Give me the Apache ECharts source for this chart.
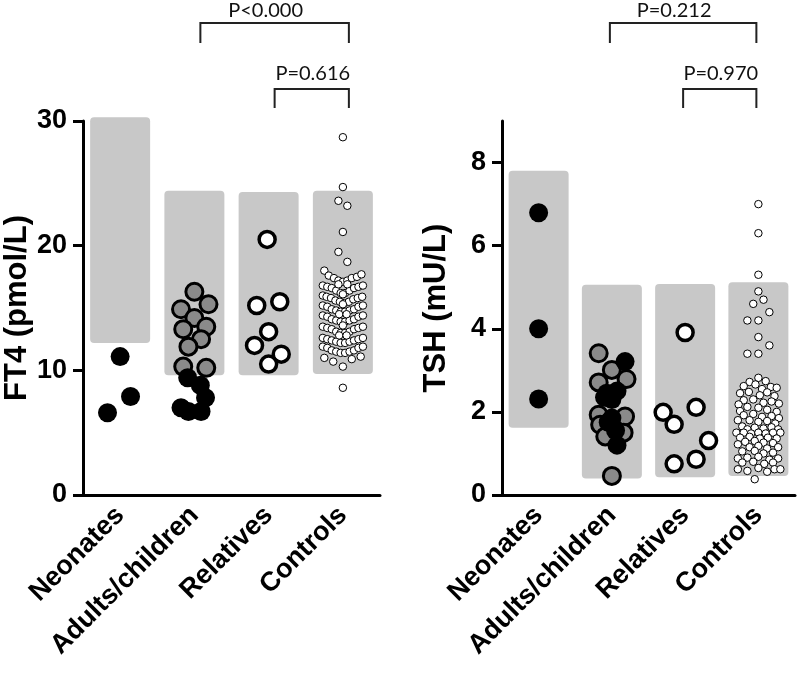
<!DOCTYPE html>
<html>
<head>
<meta charset="utf-8">
<script src="https://cdn.jsdelivr.net/npm/echarts@6/dist/echarts.min.js"></script>
<style>
  html, body { margin: 0; background: #fff; }
  #chart { width: 800px; height: 676px; }
</style>
</head>
<body>
<div id="chart"></div>
<script>
const categories = ['Neonates', 'Adults/children', 'Relatives', 'Controls'];

// reference ranges (grey boxes)
const ft4RangeLow = [12.2, 9.6, 9.6, 9.7];
const ft4RangeHigh = [30.3, 24.4, 24.3, 24.4];
const tshRangeLow = [1.62, 0.4, 0.43, 0.46];
const tshRangeHigh = [7.8, 5.06, 5.08, 5.12];

// points are [jitter inside the category, value]
const ft4Neonates = [[-0.17, 6.6], [0, 11.1], [0.14, 7.9]];
const ft4AdultsGrey = [[0, 16.3], [0.19, 15.3], [-0.18, 14.9], [0, 14.2], [-0.15, 13.3], [0.16, 13.5],
  [0.09, 12.5], [-0.08, 11.9], [-0.15, 10.3], [0.16, 10.2]];
const ft4AdultsBlack = [[-0.09, 9.4], [0.08, 8.8], [0.15, 7.8], [-0.18, 7.0], [-0.08, 6.7], [0.09, 6.7]];
const ft4Relatives = [[-0.02, 20.5], [-0.16, 15.2], [0.15, 15.5], [0, 13.1], [-0.19, 12.0], [0.17, 11.3], [0, 10.5]];
const ft4Controls = [
  [0, 28.7], [0, 24.7], [-0.06, 23.6], [0.06, 23.2], [0, 21.1], [-0.06, 19.5], [0.06, 18.7],
  [-0.25, 18.0], [-0.19, 17.6], [-0.12, 17.4], [-0.06, 17.2], [0, 17.1], [0.06, 17.2], [0.12, 17.4], [0.19, 17.5], [0.25, 17.7],
  [-0.27, 16.8], [-0.21, 16.7], [-0.15, 16.6], [-0.09, 16.4], [-0.03, 16.2], [0.03, 16.2], [0.09, 16.4], [0.15, 16.6], [0.21, 16.7], [0.27, 16.8], [-0.06, 16.9], [0.06, 16.9],
  [-0.27, 16.0], [-0.22, 15.9], [-0.16, 15.8], [-0.1, 15.6], [-0.04, 15.5], [0.02, 15.4], [0.08, 15.5], [0.14, 15.7], [0.2, 15.8], [0.26, 15.9], [0, 16.1],
  [-0.27, 15.2], [-0.21, 15.1], [-0.15, 14.9], [-0.09, 14.8], [-0.03, 14.7], [0.03, 14.7], [0.09, 14.8], [0.15, 14.9], [0.21, 15.1], [0.27, 15.2], [0, 15.3],
  [-0.27, 14.4], [-0.21, 14.3], [-0.15, 14.1], [-0.09, 14.0], [-0.03, 13.9], [0.03, 13.9], [0.09, 14.0], [0.15, 14.1], [0.21, 14.3], [0.27, 14.4], [-0.05, 14.5], [0.05, 14.5],
  [-0.27, 13.5], [-0.21, 13.4], [-0.15, 13.3], [-0.09, 13.1], [-0.03, 13.0], [0.03, 13.0], [0.09, 13.1], [0.15, 13.3], [0.21, 13.4], [0.27, 13.5], [0, 13.6],
  [-0.27, 12.6], [-0.21, 12.5], [-0.15, 12.4], [-0.09, 12.3], [-0.03, 12.2], [0.03, 12.2], [0.09, 12.3], [0.15, 12.4], [0.21, 12.5], [0.27, 12.6], [-0.05, 12.8], [0.05, 12.8],
  [-0.27, 11.9], [-0.21, 11.8], [-0.15, 11.6], [-0.09, 11.5], [-0.03, 11.4], [0.03, 11.4], [0.09, 11.5], [0.15, 11.6], [0.21, 11.8], [0.27, 11.9],
  [-0.25, 11.0], [-0.13, 10.7], [0, 10.3], [0.12, 10.9], [0.24, 11.1],
  [0, 8.6]
];

const tshNeonates = [[0, 6.79], [0, 4.0], [0, 2.31]];
const tshAdultsGrey = [[-0.18, 3.41], [0, 3.01], [-0.18, 2.71], [0.2, 2.79], [-0.18, 1.93], [0.18, 1.89],
  [-0.16, 1.69], [0.16, 1.5], [-0.09, 1.41], [0, 0.46]];
const tshAdultsBlack = [[0.18, 3.21], [-0.07, 2.45], [0.07, 2.5], [0, 2.3], [-0.1, 2.35], [0, 1.85],
  [0.05, 1.55], [-0.05, 1.75], [0.07, 1.2]];
const tshRelatives = [[0, 3.91], [-0.3, 1.99], [-0.15, 1.7], [0.15, 2.11], [0.32, 1.31], [-0.15, 0.75], [0.15, 0.86]];
const tshControls = [
  [0, 7.0], [0, 6.3], [0, 5.3], [0, 4.9], [-0.07, 4.6], [0.07, 4.7], [0.15, 4.4], [-0.15, 4.2], [0, 4.2],
  [0, 3.8], [0.15, 3.6], [-0.15, 3.4], [0, 3.4],
  [0, 2.82], [-0.12, 2.72], [0.1, 2.74], [-0.2, 2.62], [-0.04, 2.66], [0.05, 2.55], [0.17, 2.6], [0.25, 2.58],
  [-0.25, 2.45], [-0.13, 2.48], [0.02, 2.4], [0.12, 2.47], [0.22, 2.38],
  [-0.2, 2.28], [-0.07, 2.3], [0.07, 2.22], [0.18, 2.25], [-0.27, 2.18], [0.28, 2.2],
  [-0.15, 2.12], [0, 2.1], [0.12, 2.05], [-0.25, 2.02], [0.25, 2.0],
  [-0.2, 1.92], [-0.07, 1.95], [0.05, 1.88], [0.18, 1.9], [0.28, 1.85],
  [-0.28, 1.8], [-0.12, 1.8], [0, 1.76], [0.12, 1.78], [0.23, 1.72],
  [-0.22, 1.65], [-0.05, 1.62], [0.07, 1.6], [0.18, 1.63], [-0.15, 1.58], [0.27, 1.58],
  [-0.3, 1.5], [-0.2, 1.5], [-0.1, 1.48], [0, 1.5], [0.1, 1.48], [0.2, 1.5], [0.3, 1.5],
  [-0.25, 1.38], [-0.12, 1.4], [0.02, 1.36], [0.13, 1.38], [0.25, 1.36],
  [-0.18, 1.28], [-0.05, 1.3], [0.07, 1.26], [0.2, 1.25], [-0.28, 1.22],
  [-0.12, 1.15], [0, 1.18], [0.12, 1.12], [0.27, 1.15],
  [-0.22, 1.05], [-0.05, 1.06], [0.07, 1.0], [0.2, 1.02],
  [-0.28, 0.88], [-0.15, 0.9], [0, 0.92], [0.15, 0.85], [0.27, 0.88],
  [-0.22, 0.78], [-0.07, 0.8], [0.08, 0.75], [0.2, 0.78],
  [-0.28, 0.62], [-0.15, 0.58], [0, 0.65], [0.12, 0.56], [0.22, 0.62], [0.3, 0.62],
  [-0.05, 0.38]
];

// p-value brackets: [panel, from category, to category, label, row]
const brackets = [
  [0, 1, 3, 'P<0.000', 0],
  [0, 2, 3, 'P=0.616', 1],
  [1, 1, 3, 'P=0.212', 0],
  [1, 2, 3, 'P=0.970', 1]
];

const axisFont = 'Liberation Sans, Arial, sans-serif';

const chart = echarts.init(document.getElementById('chart'));

function catAxis(gridIndex) {
  return {
    type: 'category', gridIndex: gridIndex, data: categories,
    axisLine: { lineStyle: { color: '#000', width: 3 } },
    axisTick: { alignWithLabel: true, length: 9, lineStyle: { color: '#000', width: 3 } },
    axisLabel: { rotate: 45, margin: 16, color: '#000', fontSize: 27, fontWeight: 'bold', fontFamily: axisFont },
    splitLine: { show: false }
  };
}

function jitterAxis(gridIndex) {
  return { type: 'value', gridIndex: gridIndex, min: -0.5, max: 3.5, show: false };
}

function valueAxis(gridIndex, name, max, interval, ticks) {
  return {
    type: 'value', gridIndex: gridIndex, min: 0, max: max, interval: interval,
    name: name, nameLocation: 'middle', nameRotate: 90, nameGap: 50,
    nameTextStyle: { color: '#000', fontSize: 31, fontWeight: 'bold', fontFamily: axisFont },
    axisLine: { show: true, onZero: false, lineStyle: { color: '#000', width: 3 } },
    axisTick: { show: true, length: 10, customValues: ticks, lineStyle: { color: '#000', width: 3 } },
    axisLabel: { margin: 16, customValues: ticks, color: '#000', fontSize: 27, fontWeight: 'bold', fontFamily: axisFont },
    splitLine: { show: false }
  };
}

function rangeSeries(xIdx, yIdx, stack, low, high) {
  return [
    { type: 'bar', xAxisIndex: xIdx, yAxisIndex: yIdx, stack: stack, barWidth: 60, silent: true, clip: false,
      itemStyle: { color: 'transparent' }, data: low },
    { type: 'bar', xAxisIndex: xIdx, yAxisIndex: yIdx, stack: stack, barWidth: 60, silent: true, clip: false,
      itemStyle: { color: '#c8c8c8', borderRadius: 4, opacity: 1 },
      data: high.map((h, i) => +(h - low[i]).toFixed(2)) }
  ];
}

function dots(xIdx, yIdx, cat, pts, size, style) {
  return {
    type: 'scatter', xAxisIndex: xIdx, yAxisIndex: yIdx, symbolSize: size, silent: true,
    itemStyle: Object.assign({ opacity: 1 }, style), data: pts.map(p => [cat + p[0], p[1]])
  };
}

const blackDot = { color: '#000' };
const greyDot = { color: '#8a8a8a', borderColor: '#000', borderWidth: 3 };
const openDot = { color: '#fff', borderColor: '#000', borderWidth: 3.5 };
const smallDot = { color: '#fff', borderColor: '#000', borderWidth: 1 };

chart.setOption({
  animation: false,
  backgroundColor: '#fff',
  grid: [
    { left: 83, top: 121, width: 297, height: 374, outerBoundsMode: 'none' },
    { left: 502, top: 121, width: 293, height: 374, outerBoundsMode: 'none' }
  ],
  xAxis: [catAxis(0), jitterAxis(0), catAxis(1), jitterAxis(1)],
  yAxis: [
    valueAxis(0, 'FT4 (pmol/L)', 30, 10, [0, 10, 20, 30]),
    valueAxis(1, 'TSH (mU/L)', 9, 2, [0, 2, 4, 6, 8])
  ],
  series: [
    ...rangeSeries(0, 0, 'ft4', ft4RangeLow, ft4RangeHigh),
    ...rangeSeries(2, 1, 'tsh', tshRangeLow, tshRangeHigh),
    dots(1, 0, 0, ft4Neonates, 19, blackDot),
    dots(1, 0, 1, ft4AdultsGrey, 17, greyDot),
    dots(1, 0, 1, ft4AdultsBlack, 19, blackDot),
    dots(1, 0, 2, ft4Relatives, 16, openDot),
    dots(1, 0, 3, ft4Controls, 7.5, smallDot),
    dots(3, 1, 0, tshNeonates, 19, blackDot),
    dots(3, 1, 1, tshAdultsGrey, 17, greyDot),
    dots(3, 1, 1, tshAdultsBlack, 19, blackDot),
    dots(3, 1, 2, tshRelatives, 16, openDot),
    dots(3, 1, 3, tshControls, 7.5, smallDot)
  ]
});

// brackets placed from the hidden jitter axes
const rowY = [[11, 23, 43], [74, 89, 108]];
const panelShift = [6, -2];
const graphics = [];
brackets.forEach(([panel, from, to, label, row]) => {
  const axis = panel === 0 ? 1 : 3;
  const x1 = chart.convertToPixel({ xAxisIndex: axis }, from) + panelShift[panel];
  const x2 = chart.convertToPixel({ xAxisIndex: axis }, to) + panelShift[panel];
  const [ty, top, bottom] = rowY[row];
  graphics.push({
    type: 'polyline', silent: true,
    shape: { points: [[x1, bottom], [x1, top], [x2, top], [x2, bottom]] },
    style: { stroke: '#222', lineWidth: 2, fill: null }
  });
  graphics.push({
    type: 'text', silent: true,
    x: (x1 + x2) / 2 + (row === 0 ? -9 : 1), y: ty,
    style: { text: label, fill: '#111', font: '20px Lato, "Open Sans", sans-serif', align: 'center', verticalAlign: 'middle' }
  });
});
chart.setOption({ graphic: graphics });
</script>
</body>
</html>
